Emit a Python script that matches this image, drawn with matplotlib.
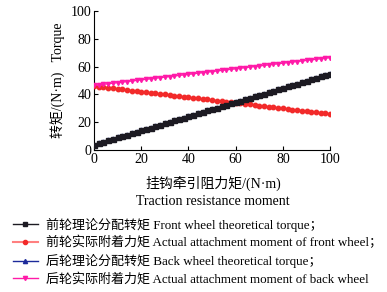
import matplotlib
import matplotlib.pyplot as plt
from matplotlib.lines import Line2D

matplotlib.use("Agg")

plt.rcParams["font.family"] = ["Liberation Serif", "Noto Sans CJK SC"]

# traction resistance moment, N·m (one marker every 2 units)
x_moment = list(range(0, 101, 2))

front_theory = [4.0, 5.0, 6.0, 7.1, 8.1, 9.1, 10.1, 11.1, 12.2, 13.2, 14.2, 15.2, 16.2,
                17.3, 18.3, 19.3, 20.3, 21.3, 22.4, 23.4, 24.4, 25.4, 26.4, 27.5, 28.5,
                29.5, 30.5, 31.5, 32.6, 33.6, 34.6, 35.6, 36.6, 37.7, 38.7, 39.7, 40.7,
                41.7, 42.8, 43.8, 44.8, 45.8, 46.8, 47.9, 48.9, 49.9, 50.9, 51.9, 53.0,
                54.0, 55.0]
front_actual = [46.0, 45.6, 45.2, 44.8, 44.4, 44.0, 43.6, 43.2, 42.8, 42.4, 42.0, 41.6,
                41.2, 40.8, 40.4, 40.0, 39.6, 39.2, 38.8, 38.4, 38.0, 37.6, 37.2, 36.8,
                36.4, 36.0, 35.6, 35.2, 34.8, 34.4, 34.0, 33.6, 33.2, 32.8, 32.4, 32.0,
                31.6, 31.2, 30.8, 30.4, 30.0, 29.6, 29.2, 28.8, 28.4, 28.0, 27.6, 27.2,
                26.8, 26.4, 26.0]
back_theory = [4.0, 5.0, 6.0, 7.1, 8.1, 9.1, 10.1, 11.1, 12.2, 13.2, 14.2, 15.2, 16.2,
               17.3, 18.3, 19.3, 20.3, 21.3, 22.4, 23.4, 24.4, 25.4, 26.4, 27.5, 28.5,
               29.5, 30.5, 31.5, 32.6, 33.6, 34.6, 35.6, 36.6, 37.7, 38.7, 39.7, 40.7,
               41.7, 42.8, 43.8, 44.8, 45.8, 46.8, 47.9, 48.9, 49.9, 50.9, 51.9, 53.0,
               54.0, 55.0]
back_actual = [46.5, 46.9, 47.3, 47.7, 48.1, 48.5, 48.9, 49.3, 49.7, 50.1, 50.5, 50.9,
               51.3, 51.7, 52.1, 52.5, 52.9, 53.3, 53.7, 54.1, 54.5, 54.9, 55.3, 55.7,
               56.1, 56.5, 56.9, 57.3, 57.7, 58.1, 58.5, 58.9, 59.3, 59.7, 60.1, 60.5,
               60.9, 61.3, 61.7, 62.1, 62.5, 62.9, 63.3, 63.7, 64.1, 64.5, 64.9, 65.3,
               65.7, 66.1, 66.5]

labels = [
    "前轮理论分配转矩 Front wheel theoretical torque；",
    "前轮实际附着力矩 Actual attachment moment of front wheel；",
    "后轮理论分配转矩 Back wheel theoretical torque；",
    "后轮实际附着力矩 Actual attachment moment of back wheel",
]
c_black, c_red, c_blue, c_mag = "#1c1a22", "#f22a2a", "#1c2a9a", "#ff1aa8"

fig = plt.figure(figsize=(3.87, 2.92), dpi=100)
ax = fig.add_axes([0.243, 0.486, 0.61, 0.476])

ax.plot(x_moment, back_theory, color=c_blue, marker="^", ms=3.5, lw=1, zorder=2)
ax.plot(x_moment, front_actual, color=c_red, marker="o", ms=3.2, lw=1, zorder=3)
ax.plot(x_moment, back_actual, color=c_mag, marker="v", ms=3.0, lw=0.9, zorder=3)
ax.plot(x_moment, front_theory, color=c_black, marker="s", ms=3.6, lw=1, zorder=4)

ax.set_xlim(0, 100)
ax.set_ylim(0, 100)
ax.set_xticks(range(0, 101, 20))
ax.set_yticks(range(0, 101, 20))
ax.spines["top"].set_visible(False)
ax.spines["right"].set_visible(False)
ax.tick_params(direction="in", length=3, width=0.8, labelsize=10, pad=2)

ax.set_ylabel("转矩/(N·m)   Torque", fontsize=10, labelpad=4)
fig.text(0.55, 0.373, "挂钩牵引阻力矩/(N·m)", ha="center", va="center", fontsize=10)
fig.text(0.55, 0.31, "Traction resistance moment", ha="center", va="center", fontsize=10)

handles = [
    Line2D([], [], color=c_black, marker="s", ms=3, lw=1),
    Line2D([], [], color="#ff8080", marker="o", markerfacecolor=c_red,
           markeredgecolor=c_red, ms=3, lw=1.5),
    Line2D([], [], color=c_blue, marker="^", ms=3, lw=1),
    Line2D([], [], color=c_mag, marker="v", ms=3, lw=1),
]
fig.legend(handles, labels, loc="upper left", bbox_to_anchor=(0.02, 0.273),
           frameon=False, fontsize=9.4, handlelength=1.9, handletextpad=0.6,
           labelspacing=0.36, borderaxespad=0)

fig.savefig("out.png", dpi=100)
